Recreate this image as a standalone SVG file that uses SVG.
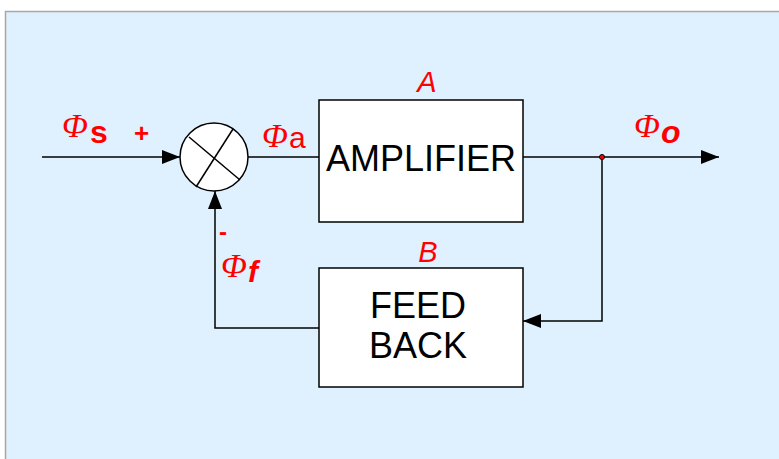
<svg xmlns="http://www.w3.org/2000/svg" width="779" height="459" viewBox="0 0 779 459">
<style>
.box{fill:#fff;stroke:#000;stroke-width:1.5}
.ln{fill:none;stroke:#000;stroke-width:1.5}
.lbl{font-family:"Liberation Sans",Arial,sans-serif;fill:#000;font-size:36px;text-anchor:middle}
.red{fill:#f00;font-family:"Liberation Sans",Arial,sans-serif}
.phi{font-family:"Liberation Serif","Times New Roman",serif;font-style:italic;fill:#f00;font-size:34px}
</style>
<defs>
<marker id="ah" markerWidth="18" markerHeight="14" refX="18" refY="7" orient="auto" markerUnits="userSpaceOnUse">
<path d="M0,0 L18,7 L0,14 Z" fill="#000"/>
</marker>
</defs>
<rect x="5.5" y="11.5" width="790" height="460" fill="#dff0fe" stroke="#a8a8a8" stroke-width="1.5"/>
<g id="connectors">
<line class="ln" x1="42" y1="157" x2="180" y2="157" marker-end="url(#ah)"/>
<line class="ln" x1="248" y1="157" x2="319" y2="157"/>
<line class="ln" x1="523" y1="157" x2="719" y2="157" marker-end="url(#ah)"/>
<polyline class="ln" points="602,157 602,321 523,321" marker-end="url(#ah)"/>
<polyline class="ln" points="319,328 215,328 215,191" marker-end="url(#ah)"/>
<circle cx="602" cy="157" r="2.5" fill="#f00" stroke="#000" stroke-width="1"/>
</g>
<g id="summer">
<circle cx="214" cy="157" r="34" class="box"/>
<line class="ln" x1="189" y1="137" x2="240" y2="180"/>
<line class="ln" x1="233" y1="129" x2="196" y2="187"/>
</g>
<g id="amplifier">
<rect class="box" x="319" y="100" width="204" height="122"/>
<text class="lbl" x="421" y="171">AMPLIFIER</text>
<text class="red" x="427" y="92" font-size="29" font-style="italic" text-anchor="middle">A</text>
</g>
<g id="feedback">
<rect class="box" x="319" y="268" width="204" height="119"/>
<text class="lbl" x="418" y="318">FEED</text>
<text class="lbl" x="418" y="358">BACK</text>
<text class="red" x="428" y="262" font-size="29" font-style="italic" text-anchor="middle">B</text>
</g>
<g id="labels">
<text x="62" y="137"><tspan class="phi">Φ</tspan><tspan class="red" font-size="32" font-weight="bold" dx="2" dy="6">s</tspan></text>
<text class="red" x="134" y="142" font-size="26" font-weight="bold">+</text>
<text x="262" y="147"><tspan class="phi" font-size="30">Φ</tspan><tspan class="red" font-size="30" dx="1" dy="1">a</tspan></text>
<text x="634" y="137"><tspan class="phi">Φ</tspan><tspan class="red" font-size="32" font-weight="bold" font-style="italic" dx="1" dy="6">o</tspan></text>
<text class="red" x="219" y="240" font-size="24" font-weight="bold">-</text>
<text x="221" y="277"><tspan class="phi" font-size="28">Φ</tspan><tspan class="red" font-size="30" font-weight="bold" font-style="italic" dx="1" dy="5">f</tspan></text>
</g>
</svg>
